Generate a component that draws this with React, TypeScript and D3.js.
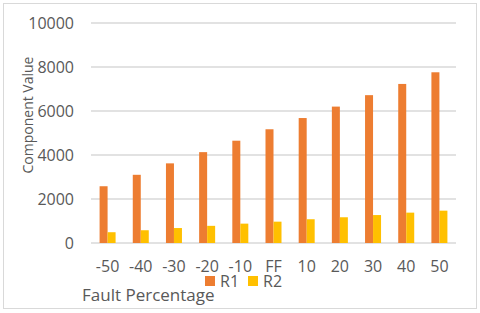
import React from 'react';
import * as d3 from 'd3';

// Chart data
const categories = ['-50', '-40', '-30', '-20', '-10', 'FF', '10', '20', '30', '40', '50'];
const r1Values = [2580, 3100, 3620, 4130, 4650, 5170, 5680, 6200, 6720, 7230, 7760];
const r2Values = [490, 580, 680, 780, 880, 970, 1080, 1170, 1270, 1380, 1470];
const yTicks = [0, 2000, 4000, 6000, 8000, 10000];
const seriesNames = ['R1', 'R2'];
const seriesColors = ['#ED7D31', '#FFC000'];

const W = 480;
const H = 313;
const plot = { left: 91, right: 456, top: 23, bottom: 243 };
const font = '"Open Sans", Calibri, sans-serif';
const textColor = '#595959';

const App = () => {
    const x = d3.scaleBand<string>()
        .domain(categories)
        .range([plot.left, plot.right]);

    const inner = d3.scaleBand<string>()
        .domain(seriesNames)
        .range([0, 16])
        .padding(0);

    const y = d3.scaleLinear()
        .domain([0, 10000])
        .range([plot.bottom, plot.top]);

    const series = [r1Values, r2Values];

    return (
        <svg
            width={W}
            height={H}
            style={{ position: 'absolute', left: 0, top: 0, background: '#fff' }}
        >
            <rect x={3.5} y={3.5} width={473} height={305} fill="#fff" stroke="#d9d9d9" strokeWidth={1} />

            {/* gridlines */}
            {yTicks.map(t => (
                <line
                    key={t}
                    x1={plot.left}
                    x2={plot.right}
                    y1={y(t)}
                    y2={y(t)}
                    stroke="#d9d9d9"
                    strokeWidth={1.5}
                />
            ))}

            {/* y tick labels */}
            {yTicks.map(t => (
                <text
                    key={'yl' + t}
                    x={74}
                    y={y(t)}
                    dy="0.35em"
                    textAnchor="end"
                    fontFamily={font}
                    fontSize={16}
                    fill={textColor}
                >
                    {t}
                </text>
            ))}

            {/* bars */}
            {categories.map((c, i) => {
                const x0 = (x(c) ?? 0) + x.bandwidth() / 2 - 8;
                return (
                    <g key={c}>
                        {series.map((vals, s) => (
                            <rect
                                key={s}
                                x={x0 + (inner(seriesNames[s]) ?? 0)}
                                y={y(vals[i])}
                                width={inner.bandwidth()}
                                height={y(0) - y(vals[i])}
                                fill={seriesColors[s]}
                            />
                        ))}
                    </g>
                );
            })}

            {/* x tick labels */}
            {categories.map(c => (
                <text
                    key={'xl' + c}
                    x={(x(c) ?? 0) + x.bandwidth() / 2}
                    y={266}
                    dy="0.35em"
                    textAnchor="middle"
                    fontFamily={font}
                    fontSize={16}
                    fill={textColor}
                >
                    {c}
                </text>
            ))}

            {/* y axis title */}
            <text
                transform="translate(28,115) rotate(-90)"
                dy="0.35em"
                textAnchor="middle"
                fontFamily={font}
                fontSize={14}
                fill={textColor}
            >
                Component Value
            </text>

            {/* x axis title */}
            <text
                x={82}
                y={295}
                dy="0.35em"
                fontFamily={font}
                fontSize={17}
                fill={textColor}
            >
                Fault Percentage
            </text>

            {/* legend */}
            {seriesNames.map((n, s) => (
                <g key={'lg' + n} transform={`translate(${205 + s * 43},276)`}>
                    <rect x={0} y={0} width={10} height={10} fill={seriesColors[s]} />
                    <text
                        x={15}
                        y={5}
                        dy="0.35em"
                        fontFamily={font}
                        fontSize={16}
                        fill={textColor}
                    >
                        {n}
                    </text>
                </g>
            ))}
        </svg>
    );
};

export default App;
